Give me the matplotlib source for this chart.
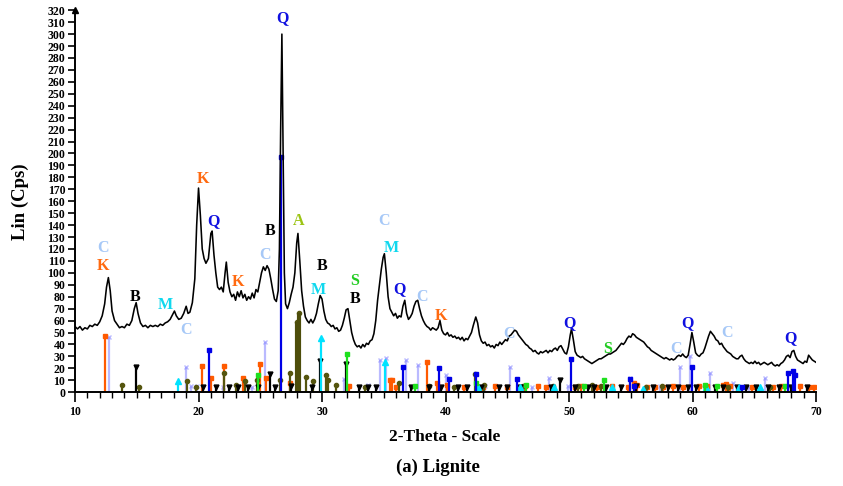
import matplotlib
matplotlib.use("Agg")
import matplotlib.pyplot as plt
from matplotlib.ticker import MultipleLocator

plt.rcParams["font.family"] = ["Liberation Serif", "DejaVu Serif"]
plt.rcParams["font.weight"] = "bold"

# measured XRD trace (2-theta, counts)
TWO_THETA = [
    10.0, 10.2, 10.4, 10.6, 10.8, 11.0, 11.2, 11.4, 11.6, 11.8, 12.0, 12.2, 12.4, 12.55, 12.7, 12.85,
    13.0, 13.2, 13.4, 13.6, 13.8, 14.0, 14.2, 14.4, 14.6, 14.8, 14.95, 15.1, 15.3, 15.5, 15.7, 15.9,
    16.1, 16.3, 16.5, 16.7, 16.9, 17.1, 17.3, 17.5, 17.7, 17.9, 18.05, 18.2, 18.4, 18.6, 18.8, 19.0,
    19.15, 19.3, 19.5, 19.7, 19.85, 20.0, 20.15, 20.3, 20.45, 20.6, 20.8, 21.0, 21.1, 21.25, 21.4,
    21.55, 21.7, 21.85, 22.0, 22.15, 22.25, 22.4, 22.55, 22.7, 22.85, 23.0, 23.15, 23.3, 23.45, 23.6,
    23.75, 23.9, 24.05, 24.2, 24.35, 24.5, 24.65, 24.8, 24.95, 25.1, 25.25, 25.4, 25.55, 25.7, 25.85,
    26.0, 26.15, 26.3, 26.45, 26.55, 26.65, 26.75, 26.85, 26.95, 27.05, 27.2, 27.35, 27.5, 27.65,
    27.8, 27.95, 28.05, 28.2, 28.35, 28.5, 28.65, 28.8, 28.95, 29.1, 29.25, 29.4, 29.55, 29.7, 29.85,
    30.0, 30.15, 30.3, 30.45, 30.6, 30.75, 30.9, 31.05, 31.2, 31.35, 31.5, 31.65, 31.8, 31.95, 32.1,
    32.25, 32.4, 32.55, 32.7, 32.85, 33.0, 33.15, 33.3, 33.45, 33.6, 33.75, 33.9, 34.05, 34.2, 34.35,
    34.5, 34.65, 34.8, 34.95, 35.05, 35.2, 35.35, 35.5, 35.65, 35.8, 35.95, 36.1, 36.25, 36.4, 36.55,
    36.7, 36.85, 37.0, 37.15, 37.3, 37.45, 37.6, 37.75, 37.9, 38.05, 38.2, 38.35, 38.5, 38.65, 38.8,
    38.95, 39.1, 39.25, 39.4, 39.55, 39.7, 39.85, 40.0, 40.15, 40.3, 40.45, 40.6, 40.75, 40.9, 41.05,
    41.2, 41.35, 41.5, 41.65, 41.8, 41.95, 42.1, 42.25, 42.45, 42.6, 42.75, 42.9, 43.05, 43.2, 43.35,
    43.5, 43.65, 43.8, 43.95, 44.1, 44.25, 44.4, 44.55, 44.7, 44.85, 45.0, 45.15, 45.3, 45.45, 45.6,
    45.75, 45.9, 46.05, 46.2, 46.35, 46.5, 46.65, 46.8, 46.95, 47.1, 47.25, 47.4, 47.55, 47.7, 47.85,
    48.0, 48.15, 48.3, 48.45, 48.6, 48.75, 48.9, 49.05, 49.2, 49.35, 49.5, 49.65, 49.8, 49.95, 50.1,
    50.2, 50.35, 50.5, 50.65, 50.8, 50.95, 51.1, 51.25, 51.4, 51.55, 51.7, 51.85, 52.0, 52.15, 52.3,
    52.45, 52.6, 52.75, 52.9, 53.05, 53.2, 53.35, 53.5, 53.65, 53.8, 53.95, 54.1, 54.25, 54.4, 54.55,
    54.7, 54.85, 55.0, 55.15, 55.3, 55.45, 55.6, 55.75, 55.9, 56.05, 56.2, 56.35, 56.5, 56.65, 56.8,
    56.95, 57.1, 57.25, 57.4, 57.55, 57.7, 57.85, 58.0, 58.15, 58.3, 58.45, 58.6, 58.75, 58.9, 59.05,
    59.2, 59.35, 59.5, 59.65, 59.8, 59.95, 60.1, 60.25, 60.4, 60.55, 60.7, 60.85, 61.0, 61.15, 61.3,
    61.45, 61.6, 61.75, 61.9, 62.05, 62.2, 62.35, 62.5, 62.65, 62.8, 62.95, 63.1, 63.25, 63.4, 63.55,
    63.7, 63.85, 64.0, 64.15, 64.3, 64.45, 64.6, 64.75, 64.9, 65.05, 65.2, 65.35, 65.5, 65.65, 65.8,
    65.95, 66.1, 66.25, 66.4, 66.55, 66.7, 66.85, 67.0, 67.15, 67.3, 67.45, 67.6, 67.75, 67.9, 68.05,
    68.2, 68.35, 68.5, 68.65, 68.8, 68.95, 69.1, 69.25, 69.4, 69.55, 69.7, 69.85, 70.0,
]
LIN = [
    55, 53, 55, 52, 54, 53, 56, 55, 57, 56, 59, 64, 74, 88, 96, 85,
    68, 60, 57, 54, 55, 54, 57, 56, 60, 70, 75, 66, 58, 55, 56, 54,
    56, 55, 56, 55, 57, 56, 58, 59, 61, 65, 68, 64, 61, 62, 66, 72,
    66, 67, 75, 95, 140, 171, 148, 120, 112, 108, 112, 133, 135, 115, 100,
    88, 86, 88, 84, 100, 109, 92, 84, 80, 82, 77, 84, 80, 85, 79,
    82, 77, 80, 78, 83, 79, 86, 84, 92, 100, 105, 102, 106, 103, 95,
    86, 78, 76, 85, 120, 220, 300, 200, 100, 74, 70, 75, 82, 88,
    100, 125, 133, 110, 85, 72, 63, 60, 58, 61, 58, 61, 66, 74, 81,
    78, 68, 61, 58, 57, 55, 56, 53, 54, 51, 52, 56, 62, 69, 70,
    60, 50, 44, 40, 38, 39, 37, 40, 38, 41, 40, 43, 44, 49, 60,
    77, 90, 103, 113, 116, 100, 80, 70, 67, 64, 66, 62, 64, 63, 72,
    77, 66, 61, 63, 66, 72, 76, 77, 70, 64, 60, 57, 55, 54, 52,
    54, 53, 52, 54, 60, 52, 49, 48, 50, 47, 48, 46, 47, 45, 46,
    44, 46, 43, 45, 44, 47, 50, 56, 63, 58, 48, 43, 41, 42, 39,
    40, 38, 39, 37, 40, 39, 42, 40, 42, 44, 43, 47, 48, 50, 52,
    51, 48, 46, 44, 42, 40, 39, 37, 36, 34, 35, 33, 32, 34, 33,
    34, 35, 33, 35, 34, 36, 37, 35, 38, 39, 36, 33, 32, 38, 48,
    53, 44, 34, 31, 30, 29, 30, 28, 27, 26, 25, 24, 25, 26, 27,
    28, 28, 29, 30, 31, 32, 32, 33, 34, 35, 37, 39, 41, 40, 42,
    45, 47, 46, 49, 48, 46, 45, 44, 43, 42, 40, 38, 37, 35, 34,
    33, 32, 31, 30, 29, 28, 29, 28, 27, 28, 27, 28, 30, 31, 30,
    32, 30, 29, 31, 40, 50, 42, 33, 31, 30, 32, 33, 37, 42, 47,
    51, 49, 47, 44, 43, 40, 41, 38, 36, 34, 33, 32, 30, 29, 28,
    28, 30, 31, 28, 26, 25, 24, 25, 24, 26, 24, 25, 23, 24, 25,
    24, 23, 24, 25, 23, 22, 23, 22, 24, 25, 27, 30, 31, 29, 34,
    35, 30, 27, 26, 25, 24, 26, 25, 31, 29, 27, 26, 25,
]

# reference patterns (stick positions / relative heights)
K_POS = [12.4, 20.3, 21.05, 22.1, 23.6, 25.0, 25.5, 27.4, 32.15, 35.5, 35.65, 36.0, 38.5, 39.3,
         40.1, 41.5, 43.0, 44.0, 45.0, 46.4, 47.5, 48.1, 50.5, 51.0, 52.3, 53.5, 54.8, 55.3,
         55.5, 56.3, 57.0, 57.6, 58.4, 59.2, 60.5, 61.2, 62.5, 62.7, 63.0, 64.8, 66.5, 67.2,
         68.7, 69.4, 69.8]
K_H = [47, 22, 12, 22, 12, 24, 12, 8, 5, 10, 10, 4, 25, 8,
       6, 4, 4, 5, 4, 5, 5, 4, 4, 5, 4, 5, 4, 8,
       6, 4, 4, 4, 5, 4, 5, 5, 6, 7, 5, 4, 4, 5,
       5, 4, 4]
C_POS = [12.75, 19.0, 19.4, 19.9, 22.0, 24.3, 25.4, 31.75, 33.7, 34.7, 35.2, 36.8, 37.75, 40.0,
         43.2, 45.25, 47.0, 48.35, 49.9, 52.0, 54.95, 55.3, 57.4, 59.0, 59.8, 61.4, 63.3, 64.6,
         65.9, 67.7]
C_H = [46, 21, 5, 5, 4, 4, 42, 11, 6, 27, 29, 27, 23, 14,
       5, 21, 4, 12, 5, 5, 12, 5, 5, 21, 30, 16, 8, 4,
       12, 5]
Q_POS = [20.85, 26.65, 36.55, 39.5, 40.3, 42.45, 45.8, 50.15, 54.9, 55.3, 59.95, 64.0, 67.7,
         68.1, 68.3]
Q_H = [35, 197, 21, 20, 11, 15, 11, 28, 11, 5, 21, 4, 16, 18, 14]
B_POS = [14.9, 20.4, 21.4, 22.5, 23.2, 24.0, 24.8, 25.8, 26.2, 27.5, 29.2, 29.8, 31.95, 33.0,
         33.7, 34.4, 37.2, 38.7, 39.6, 41.0, 41.7, 42.9, 44.3, 45.0, 46.0, 48.5, 49.3, 50.5,
         51.5, 52.0, 53.0, 54.2, 55.4, 56.8, 58.0, 58.8, 59.6, 60.3, 61.8, 62.5, 63.6, 64.3,
         65.1, 66.1, 67.0, 68.0, 69.3]
B_H = [21, 4, 4, 4, 4, 4, 4, 15, 4, 5, 4, 26, 24, 4,
       4, 4, 4, 4, 4, 4, 4, 4, 4, 4, 4, 4, 10, 4,
       4, 4, 4, 4, 5, 4, 4, 4, 4, 4, 4, 4, 4, 4,
       4, 4, 4, 4, 4]
A_POS = [13.8, 15.2, 19.1, 19.8, 22.1, 23.0, 23.8, 24.7, 26.6, 27.4, 27.95, 28.15, 28.7, 29.25,
         30.35, 30.5, 31.1, 33.5, 36.2, 38.7, 40.7, 42.4, 43.1, 46.3, 48.7, 50.7, 51.9, 52.6,
         56.2, 57.5, 61.0, 62.9, 66.3]
A_H = [6, 4, 9, 4, 16, 6, 9, 10, 10, 16, 59, 66, 13, 9,
       14, 10, 6, 4, 8, 5, 4, 15, 6, 5, 5, 5, 6, 5,
       4, 5, 5, 4, 4]
M_POS = [18.3, 29.9, 35.1, 42.6, 46.0, 48.8, 53.5, 56.0, 61.1, 63.8, 65.5]
M_H = [9, 45, 25, 4, 4, 4, 4, 3, 4, 4, 4]
S_POS = [24.8, 32.05, 37.5, 42.5, 46.5, 51.2, 52.8, 61.0, 62.0, 67.5]
S_H = [14, 32, 5, 8, 6, 5, 10, 6, 5, 5]

# peak labels
LBL_TEXT = ["C", "K", "B", "M", "C", "K", "Q", "K", "C", "B", "Q", "A", "B", "M", "S", "B",
            "C", "M", "Q", "C", "K", "C", "Q", "S", "C", "Q", "C", "Q"]
LBL_X = [12.3, 12.3, 14.9, 17.3, 19.0, 20.4, 21.2, 23.2, 25.4, 25.8, 26.8, 28.1, 30.0, 29.7,
         32.6, 32.7, 35.0, 35.6, 36.3, 38.1, 39.6, 45.1, 50.0, 53.1, 58.7, 59.6, 62.8, 67.9]
LBL_Y = [121, 106, 80, 73, 52, 179, 143, 92, 115, 135, 313, 143, 106, 86,
         93, 78, 143, 121, 86, 80, 64, 49, 58, 36, 36, 58, 50, 45]

COL = {"C": "#a6c8f7", "K": "#ff6a10", "B": "black", "M": "#10d8ee", "Q": "#1010e0",
       "A": "#9cc414", "S": "#22cc22"}

fig = plt.figure(figsize=(8.43, 4.86), dpi=100)
ax = fig.add_axes([0.089, 0.193, 0.879, 0.786])


def sticks(pos, h, color, marker, lw=1.6, ms=3.5, alpha=1.0, z=2):
    ax.vlines(pos, 0, h, color=color, lw=lw, alpha=alpha, zorder=z)
    ax.plot(pos, h, ls="none", marker=marker, color=color, ms=ms, alpha=alpha, zorder=z)


sticks(C_POS, C_H, "#8c8cff", "x", alpha=0.6, ms=3.5)
sticks(K_POS, K_H, "#ff5a00", "s", ms=3.5)
sticks(A_POS, A_H, "#55550e", "o", lw=1.6, ms=3)
sticks(B_POS, B_H, "black", "v", ms=3.5)
sticks(M_POS, M_H, "#00e2ff", "^", ms=4)
sticks(S_POS, S_H, "#1ee01e", "s", ms=3.5)
sticks(Q_POS, Q_H, "#0000e6", "s", ms=3.5)
# the strong pair under the A peak reads as one thick bar
ax.vlines(A_POS[10:12], 0, A_H[10:12], color="#4d4d0a", lw=3, zorder=2)

ax.plot(TWO_THETA, LIN, color="black", lw=1.15, zorder=3)

for t, x, y in zip(LBL_TEXT, LBL_X, LBL_Y):
    ax.text(x, y, t, color=COL[t], fontsize=11.5, fontweight="bold",
            ha="center", va="center", zorder=4)

ax.set_xlim(10, 70)
ax.set_ylim(0, 320)
for s in ["top", "right"]:
    ax.spines[s].set_visible(False)
ax.spines["left"].set_linewidth(1.4)
ax.spines["bottom"].set_linewidth(1.4)
ax.plot(0, 1, marker="^", color="black", ms=5, transform=ax.transAxes, clip_on=False)

ax.xaxis.set_major_locator(MultipleLocator(10))
ax.xaxis.set_minor_locator(MultipleLocator(1))
ax.yaxis.set_major_locator(MultipleLocator(10))
ax.tick_params(axis="x", which="major", length=7, width=1.2, labelsize=8.5, pad=3)
ax.tick_params(axis="x", which="minor", length=4, width=1)
ax.tick_params(axis="y", which="major", length=5, width=1.2, labelsize=8.5, pad=2)
for lab in ax.get_xticklabels() + ax.get_yticklabels():
    lab.set_fontweight("bold")

ax.set_ylabel("Lin (Cps)", fontsize=13.5, fontweight="bold")
ax.yaxis.set_label_coords(-0.062, 0.5)
fig.text(0.528, 0.101, "2-Theta - Scale", fontsize=12.5, fontweight="bold",
         ha="center", va="center")
fig.text(0.52, 0.039, "(a) Lignite", fontsize=13.5, fontweight="bold",
         ha="center", va="center")

fig.savefig("out.png", dpi=100)
